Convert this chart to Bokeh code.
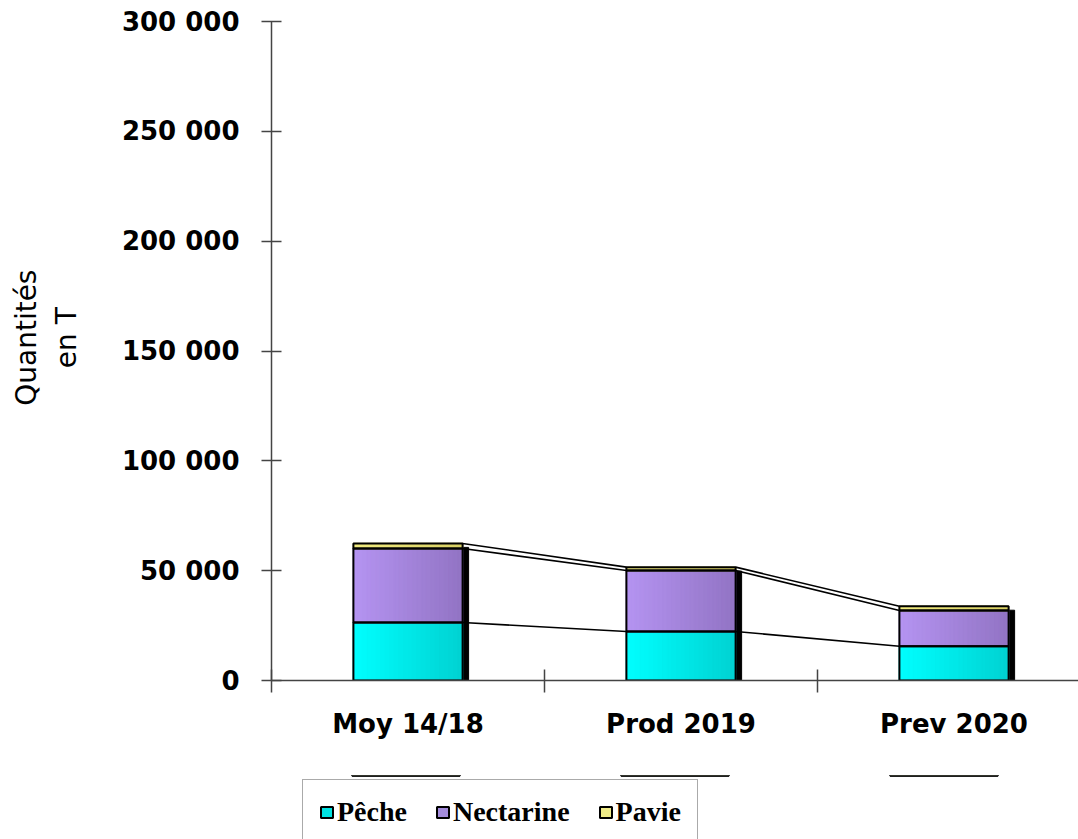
import numpy as np
from bokeh.plotting import figure
from bokeh.layouts import column
from bokeh.models import FixedTicker, Legend, LegendItem, Range1d
from bokeh.embed import file_html
from bokeh.resources import INLINE

# ---- data ----
categories = ["Moy 14/18", "Prod 2019", "Prev 2020"]
peche = [26400, 22300, 15600]
nectarine = [33700, 27800, 16300]
pavie = [2300, 1500, 1900]
series_names = ["Pêche", "Nectarine", "Pavie"]
y_ticks = [0, 50000, 100000, 150000, 200000, 250000, 300000]
y_tick_labels = ["0", "50 000", "100 000", "150 000", "200 000", "250 000", "300 000"]

# ---- style ----
grad_left = ["#00FFFF", "#B594F2", "#F2EC80"]
grad_right = ["#00D2D2", "#9274C4", "#D8D064"]
legend_colors = ["#00E2E2", "#A48CDC", "#F0EC88"]
AXIS_COLOR = "#444444"
TICK_FONT = "DejaVu Sans"

xs = np.arange(len(categories), dtype=float)
series = [np.array(peche, float), np.array(nectarine, float), np.array(pavie, float)]
bottoms = [np.zeros(len(xs))]
for s in series[:-1]:
    bottoms.append(bottoms[-1] + s)
tops = [b + s for b, s in zip(bottoms, series)]
total = tops[-1]

W = 0.40
p = figure(width=1078, height=775, output_backend="svg", toolbar_location=None,
           x_range=Range1d(-0.5, 2.456), y_range=Range1d(0, 300000))
p.min_border_left = 271
p.min_border_right = 0
p.min_border_top = 21
p.min_border_bottom = 95
p.outline_line_color = None
p.xgrid.visible = False
p.ygrid.visible = False
p.background_fill_color = "white"
p.border_fill_color = "white"

# shadow
p.vbar(x=xs + 0.022, width=W, bottom=0, top=total - 1800,
       fill_color="black", line_color="black")

# gradient slices
N = 24
def hex2rgb(h):
    h = h.lstrip("#")
    return np.array([int(h[k:k + 2], 16) for k in (0, 2, 4)], float)

for i in range(3):
    c0, c1 = hex2rgb(grad_left[i]), hex2rgb(grad_right[i])
    for k in range(N):
        t = (k + 0.5) / N
        c = c0 + (c1 - c0) * t
        col = "#%02x%02x%02x" % tuple(int(round(v)) for v in c)
        p.vbar(x=xs - W / 2 + (k + 0.5) * W / N, width=W / N,
               bottom=bottoms[i], top=tops[i], fill_color=col,
               line_color=col, line_width=1.5)

# outlines
for i in range(3):
    p.vbar(x=xs, width=W, bottom=bottoms[i], top=tops[i],
           fill_color=None, line_color="black", line_width=2)

# connecting lines between bars
for i in range(3):
    p.segment(x0=xs[:-1] + W / 2, y0=tops[i][:-1], x1=xs[1:] - W / 2, y1=tops[i][1:],
              line_color="black", line_width=1.6)

# axes
xa = p.xaxis[0]
xa.ticker = FixedTicker(ticks=list(xs), minor_ticks=list(np.arange(-0.5, len(xs), 1.0)))
xa.major_label_overrides = {float(x): c for x, c in zip(xs, categories)}
xa.major_tick_in = 0
xa.major_tick_out = 0
xa.minor_tick_in = 11
xa.minor_tick_out = 12
xa.minor_tick_line_color = AXIS_COLOR
xa.minor_tick_line_width = 1.5
xa.axis_line_color = AXIS_COLOR
xa.axis_line_width = 1.5
xa.major_label_standoff = 16
xa.major_label_text_font = TICK_FONT
xa.major_label_text_font_style = "bold"
xa.major_label_text_font_size = "26px"
xa.major_label_text_color = "black"

ya = p.yaxis[0]
ya.ticker = FixedTicker(ticks=y_ticks)
ya.major_label_overrides = {t: l for t, l in zip(y_ticks, y_tick_labels)}
ya.major_tick_in = 10
ya.major_tick_out = 10
ya.minor_tick_line_color = None
ya.major_tick_line_color = AXIS_COLOR
ya.major_tick_line_width = 1.5
ya.axis_line_color = AXIS_COLOR
ya.axis_line_width = 1.5
ya.major_label_standoff = 22
ya.major_label_text_font = TICK_FONT
ya.major_label_text_font_style = "bold"
ya.major_label_text_font_size = "26px"
ya.major_label_text_color = "black"
ya.axis_label = "\u00a0\u00a0\u00a0Quantités\n\u00a0\u00a0\u00a0en T"
ya.axis_label_text_font = TICK_FONT
ya.axis_label_text_font_style = "normal"
ya.axis_label_text_font_size = "28px"
ya.axis_label_text_color = "black"
ya.axis_label_text_line_height = 1.2
ya.axis_label_standoff = 36

# ---- legend strip (second figure) ----
# its y-range lies far below the data, so the bars themselves stay out of view
p2 = figure(width=1078, height=64, output_backend="svg", toolbar_location=None,
            x_range=Range1d(-0.5, 2.5), y_range=Range1d(-200000, -190000),
            x_axis_location=None, y_axis_location=None)
p2.min_border_left = 271
p2.min_border_right = 0
p2.min_border_top = 0
p2.min_border_bottom = 0
p2.xgrid.visible = False
p2.ygrid.visible = False
p2.outline_line_color = None
p2.background_fill_color = "white"
p2.border_fill_color = "white"

legend_renderers = []
for i in range(3):
    r = p2.vbar(x=xs, width=W, bottom=bottoms[i], top=tops[i],
                fill_color=legend_colors[i], line_color="black", line_width=2)
    legend_renderers.append(r)

legend = Legend(items=[LegendItem(label=n, renderers=[r]) for n, r in zip(series_names, legend_renderers)],
                orientation="horizontal", location=(31, -6))
legend.label_text_font = "Liberation Serif"
legend.label_text_font_style = "bold"
legend.label_text_font_size = "28px"
legend.label_text_color = "black"
legend.glyph_width = 15
legend.glyph_height = 14
legend.label_standoff = 3
legend.spacing = 28
legend.padding = 16
legend.margin = 0
legend.label_height = 30
legend.border_line_color = "#555555"
legend.border_line_width = 1.5
legend.background_fill_color = "white"
legend.background_fill_alpha = 1
p2.add_layout(legend, "center")

layout = column(p, p2, spacing=0)
open("out.html", "w").write(file_html(layout, INLINE))
